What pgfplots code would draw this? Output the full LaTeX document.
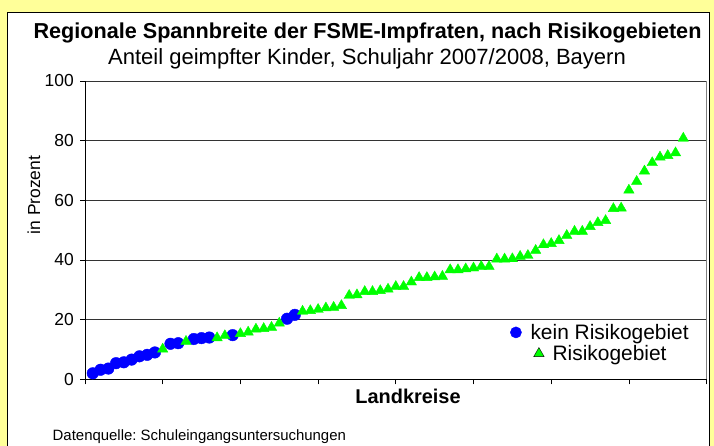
\documentclass[border=0pt]{standalone}
\usepackage{pgfplots}
\pgfplotsset{compat=1.18}
\usepackage{fontspec}
\setmainfont{Liberation Sans}
\definecolor{bgyellow}{RGB}{255,255,153}
\definecolor{mgreen}{RGB}{0,255,0}
\definecolor{mblue}{RGB}{0,0,255}
\frenchspacing
\begin{document}
\begin{tikzpicture}[x=1bp,y=1bp]
\fill[bgyellow] (0,0) rectangle (714,446);
\filldraw[fill=white, draw=black, line width=1bp] (7.5,-5) rectangle (709.5,433.5);
\node[anchor=base, inner sep=0pt, font=\fontsize{21.7}{24}\selectfont\bfseries] at (367.5,407) {Regionale Spannbreite der FSME-Impfraten, nach Risikogebieten};
\node[anchor=base, inner sep=0pt, font=\fontsize{22.1}{24}\selectfont] at (367,381) {Anteil geimpfter Kinder, Schuljahr 2007/2008, Bayern};
\node[rotate=90, inner sep=0pt, font=\fontsize{17.5}{20}\selectfont] at (34,251) {in Prozent};
\node[anchor=base, inner sep=0pt, font=\fontsize{20}{24}\selectfont\bfseries] at (408,42) {Landkreise};
\node[anchor=base west, inner sep=0pt, font=\fontsize{15}{18}\selectfont] at (52.5,5) {Datenquelle: Schuleingangsuntersuchungen};
\begin{axis}[
  at={(85bp,66.7bp)}, anchor=south west, scale only axis,
  width=621.6bp, height=298.3bp,
  xmin=0, xmax=80, ymin=0, ymax=100,
  axis x line*=bottom, axis y line*=left,
  axis line style={black, line width=0.8bp},
  xtick={0,10,...,80}, xticklabels={},
  ytick={0,20,...,100},
  extra x ticks={80}, extra x tick labels={},
  extra x tick style={grid=major, major grid style={black!50, line width=0.8bp}, major tick length=0pt},
  ymajorgrids, major grid style={black!80, line width=0.8bp},
  tick align=outside, major tick length=5bp,
  tick style={black, line width=0.8bp},
  /pgf/number format/assume math mode=true,
  yticklabel style={font=\fontsize{17.5}{20}\selectfont, inner sep=0pt, xshift=-6bp},
  clip=false,
  legend cell align=center,
  legend style={draw=none, fill=none, at={(0.6791,0.1217)}, anchor=west,
    font=\fontsize{21}{24}\selectfont, nodes={inner sep=0pt}, row sep=4.5bp,
    /tikz/every odd column/.append style={column sep=9bp}},
]
\addplot[only marks, mark=*, draw=mblue, fill=mblue, mark size=5.8bp,
  legend image code/.code={\draw[mark=*, draw=mblue, fill=mblue, mark size=5.6bp] plot coordinates {(0bp,0bp)};}]
coordinates {
(1,2.0)(2,3.2)(3,3.6)(4,5.4)(5,5.7)(6,6.6)(7,7.7)(8,8.2)(9,9.0)
(11,11.9)(12,12.1)(14,13.5)(15,13.8)(16,14.0)(19,14.8)(26,20.3)(27,21.6)
};
\addlegendentry{kein Risikogebiet}
\addplot[only marks, mark=triangle*, draw=mgreen, fill=mgreen, mark size=6bp,
  legend image code/.code={\draw[overlay, mark=triangle*, draw=black, fill=mgreen, line width=0.4bp, mark size=6bp] plot coordinates {(23bp,0bp)};}]
coordinates {
(10,10.1)(13,12.7)(17,13.9)(18,14.6)(20,15.3)(21,15.8)(22,16.8)(23,17.0)(24,17.4)(25,18.8)
(28,22.8)(29,23.0)(30,23.4)(31,23.9)(32,24.1)(33,24.7)(34,28.1)(35,28.3)(36,29.4)(37,29.4)
(38,29.7)(39,30.2)(40,31.1)(41,31.1)(42,32.6)(43,34.1)(44,34.1)(45,34.3)(46,34.5)(47,36.7)
(48,36.7)(49,37.0)(50,37.3)(51,37.8)(52,37.8)(53,40.3)(54,40.3)(55,40.4)(56,41.2)(57,41.5)
(58,43.2)(59,45.1)(60,45.5)(61,46.5)(62,48.2)(63,49.6)(64,49.6)(65,51.2)(66,52.5)(67,53.2)
(68,57.2)(69,57.4)(70,63.4)(71,66.3)(72,69.8)(73,72.6)(74,74.5)(75,75.0)(76,75.9)(77,80.8)
};
\addlegendentry{Risikogebiet}
\end{axis}
\pgfresetboundingbox
\path[use as bounding box] (0,0) rectangle (714,446);
\end{tikzpicture}
\end{document}
